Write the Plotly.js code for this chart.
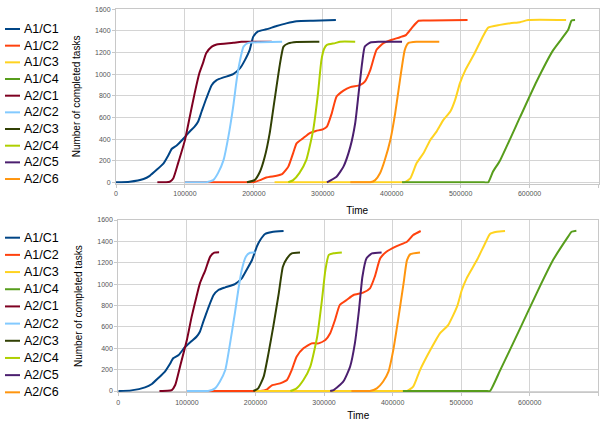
<!DOCTYPE html>
<html>
<head>
<meta charset="utf-8">
<script src="https://cdn.plot.ly/plotly-3.0.1.min.js"></script>
<style>html,body{margin:0;padding:0;background:#fff;}#chart{width:608px;height:421px;}</style>
</head>
<body>
<div id="chart"></div>
<script>
// ---- series names and colours ----
const seriesNames = ["A1/C1","A1/C2","A1/C3","A1/C4","A2/C1","A2/C2","A2/C3","A2/C4","A2/C5","A2/C6"];
const seriesColors = ["#004586","#ff420e","#ffd320","#579d1c","#7e0021","#83caff","#314004","#aecf00","#4b1f6f","#ff950e"];

// ---- top chart data (time, completed tasks) ----
const topA1C1_x = [0,20000,40000,49000,59000,69000,76000,81000,88000,98000,107000,114000,119000,124000,131000,139000,146000,156000,170000,180000,187000,194000,199000,206000,218000,233000,247000,262000,286000,319000];
const topA1C1_y = [0,5,30,60,115,175,250,310,340,405,470,515,560,650,775,900,945,970,1000,1055,1130,1225,1345,1395,1415,1445,1470,1490,1495,1500];
const topA1C2_x = [100000,193000,199000,209000,218000,233000,241000,250000,257000,262000,271000,281000,290000,300000,306000,313000,320000,330000,340000,354000,361000,369000,378000,388000,400000,412000,421000,429000,439000,456000,510000];
const topA1C2_y = [0,0,0,20,45,60,75,145,270,360,405,455,475,490,515,638,793,848,880,898,931,1040,1225,1287,1318,1342,1364,1426,1494,1496,1500];
const topA1C3_x = [230000,413000,419000,427000,436000,446000,456000,465000,475000,485000,492000,499000,507000,519000,531000,540000,557000,572000,586000,598000,653000];
const topA1C3_y = [0,0,0,37,176,268,392,469,577,654,762,917,1040,1179,1333,1431,1456,1472,1481,1500,1500];
const topA1C4_x = [415000,534000,540000,547000,557000,586000,610000,634000,656000,661000,666000];
const topA1C4_y = [0,0,0,100,200,600,930,1220,1410,1496,1500];
const topA2C1_x = [60000,72000,78000,83000,90000,100000,107000,114000,121000,126000,131000,139000,146000,170000,182000,226000];
const topA2C1_y = [0,1,5,35,175,390,605,820,1010,1100,1195,1255,1275,1290,1300,1300];
const topA2C2_x = [100000,125000,131000,141000,148000,156000,163000,170000,175000,180000,185000,192000,209000,241000];
const topA2C2_y = [0,0,0,20,85,205,420,700,945,1130,1255,1290,1295,1300];
const topA2C3_x = [190000,201000,209000,216000,223000,230000,238000,243000,250000,262000,295000];
const topA2C3_y = [0,20,100,240,455,760,1100,1255,1285,1298,1300];
const topA2C4_x = [250000,257000,266000,276000,286000,293000,298000,302000,306000,318000,325000,347000];
const topA2C4_y = [0,20,85,205,480,820,1130,1235,1271,1287,1300,1300];
const topA2C5_x = [306000,320000,330000,340000,347000,352000,357000,361000,369000,381000,415000];
const topA2C5_y = [0,52,145,330,546,824,1100,1256,1293,1300,1300];
const topA2C6_x = [340000,363000,369000,376000,383000,390000,398000,405000,412000,419000,424000,436000,469000];
const topA2C6_y = [0,0,0,20,83,206,391,638,947,1225,1287,1299,1300];

// ---- bottom chart data ----
const botA1C1_x = [0,19000,39000,49000,58000,68000,75000,80000,88000,97000,107000,114000,119000,124000,131000,139000,146000,156000,170000,180000,187000,195000,202000,207000,214000,224000,241000];
const botA1C1_y = [0,6,34,66,119,181,250,306,337,409,468,508,555,649,774,898,945,970,1001,1054,1132,1226,1351,1413,1469,1488,1497];
const botA1C2_x = [100000,201000,207000,217000,224000,236000,246000,253000,260000,270000,282000,292000,302000,309000,316000,323000,333000,343000,357000,367000,374000,382000,391000,406000,421000,430000,441000];
const botA1C2_y = [0,0,0,16,53,72,103,197,321,399,446,446,477,540,664,805,851,898,920,961,1069,1241,1303,1356,1397,1459,1497];
const botA1C3_x = [200000,415000,421000,430000,440000,455000,469000,481000,494000,501000,508000,523000,535000,542000,552000,564000];
const botA1C3_y = [0,0,0,40,196,383,540,617,789,945,1054,1225,1382,1469,1490,1497];
const botA1C4_x = [415000,536000,542000,557000,586000,610000,634000,656000,661000,668000];
const botA1C4_y = [0,0,0,196,586,914,1225,1444,1490,1500];
const botA2C1_x = [60000,72000,78000,83000,90000,100000,107000,114000,119000,127000,134000,140000,147000];
const botA2C1_y = [0,2,9,56,228,477,696,883,1007,1132,1257,1294,1298];
const botA2C2_x = [100000,125000,131000,141000,148000,156000,163000,170000,175000,180000,186000,192000,200000];
const botA2C2_y = [0,0,0,25,87,197,446,727,945,1132,1257,1294,1296];
const botA2C3_x = [197000,204000,212000,219000,226000,234000,240000,246000,253000,265000];
const botA2C3_y = [0,25,134,352,602,914,1163,1241,1288,1296];
const botA2C4_x = [251000,260000,270000,280000,290000,297000,302000,307000,314000,326000];
const botA2C4_y = [0,25,103,228,508,852,1132,1273,1288,1297];
const botA2C5_x = [309000,314000,328000,338000,345000,351000,356000,362000,370000,384000];
const botA2C5_y = [0,9,87,227,446,758,1069,1241,1288,1297];
const botA2C6_x = [340000,361000,367000,377000,386000,394000,401000,408000,416000,421000,426000,440000];
const botA2C6_y = [0,0,0,25,87,181,383,664,1007,1225,1281,1297];

const xTickVals = [0,100000,200000,300000,400000,500000,600000,700000];
const yTickVals = [0,200,400,600,800,1000,1200,1400,1600];

const topSeries = [[topA1C1_x,topA1C1_y],[topA1C2_x,topA1C2_y],[topA1C3_x,topA1C3_y],[topA1C4_x,topA1C4_y],[topA2C1_x,topA2C1_y],[topA2C2_x,topA2C2_y],[topA2C3_x,topA2C3_y],[topA2C4_x,topA2C4_y],[topA2C5_x,topA2C5_y],[topA2C6_x,topA2C6_y]];
const botSeries = [[botA1C1_x,botA1C1_y],[botA1C2_x,botA1C2_y],[botA1C3_x,botA1C3_y],[botA1C4_x,botA1C4_y],[botA2C1_x,botA2C1_y],[botA2C2_x,botA2C2_y],[botA2C3_x,botA2C3_y],[botA2C4_x,botA2C4_y],[botA2C5_x,botA2C5_y],[botA2C6_x,botA2C6_y]];

const traces = [];
topSeries.forEach((s, i) => traces.push({
  x: s[0], y: s[1], name: seriesNames[i], type: 'scatter', mode: 'lines',
  line: {color: seriesColors[i], width: 2, shape: 'spline', smoothing: 0.5},
  xaxis: 'x', yaxis: 'y', showlegend: false, hoverinfo: 'skip'
}));
botSeries.forEach((s, i) => traces.push({
  x: s[0], y: s[1], name: seriesNames[i], type: 'scatter', mode: 'lines',
  line: {color: seriesColors[i], width: 2, shape: 'spline', smoothing: 0.5},
  xaxis: 'x2', yaxis: 'y2', showlegend: false, hoverinfo: 'skip'
}));

const W = 608, H = 421;
const FONT = 'Liberation Sans, Arial, sans-serif';
const tickFont = {family: FONT, size: 7, color: '#555'};
const titleFont = {family: FONT, size: 10, color: '#000'};
function xax(domain, anchor) {
  return {domain: domain, anchor: anchor, range: [0, 700000], tickvals: xTickVals, tickformat: 'd',
    showgrid: true, gridcolor: '#d4d4d4', gridwidth: 1, zeroline: false, layer: 'below traces',
    showline: true, linecolor: '#c8c8c8', mirror: true, ticks: 'outside', ticklen: 3, tickcolor: '#c8c8c8',
    tickfont: tickFont, title: {text: 'Time', font: titleFont, standoff: 10}};
}
function yax(domain, anchor) {
  return {domain: domain, anchor: anchor, range: [-12, 1600], tickvals: yTickVals, tickformat: 'd',
    showgrid: true, gridcolor: '#d4d4d4', gridwidth: 1, zeroline: false, layer: 'below traces',
    showline: true, linecolor: '#c8c8c8', mirror: true, ticks: 'outside', ticklen: 3, tickcolor: '#c8c8c8',
    tickfont: tickFont, title: {text: 'Number of completed tasks', font: titleFont, standoff: 12}};
}

// ---- legends (one per chart), built from the series names/colours ----
const shapes = [], annotations = [];
function addLegend(topY, step) {
  seriesNames.forEach((nm, i) => {
    const yc = topY + i * step;
    const yp = (H - yc) / H;
    shapes.push({type: 'line', xref: 'paper', yref: 'paper', x0: 5 / W, x1: 20 / W, y0: yp, y1: yp,
      line: {color: seriesColors[i], width: 2}});
    annotations.push({xref: 'paper', yref: 'paper', x: 22.5 / W, y: yp, xanchor: 'left', yanchor: 'middle',
      text: nm, showarrow: false, font: {family: FONT, size: 12.5, color: '#000'}, borderpad: 0});
  });
}
addLegend(29, 16.67);
addLegend(237.7, 17.18);

const layout = {
  width: W, height: H,
  margin: {l: 0, r: 0, t: 0, b: 0, autoexpand: false},
  paper_bgcolor: '#fff', plot_bgcolor: '#fff',
  showlegend: false,
  xaxis: xax([116/W, 598.5/W], 'y'),
  yaxis: yax([(H-183.6)/H, (H-9.3)/H], 'x'),
  xaxis2: xax([118.3/W, 598.3/W], 'y2'),
  yaxis2: yax([(H-392.3)/H, (H-220)/H], 'x2'),
  shapes: shapes,
  annotations: annotations
};

Plotly.newPlot('chart', traces, layout, {staticPlot: true, displayModeBar: false});
</script>
</body>
</html>
